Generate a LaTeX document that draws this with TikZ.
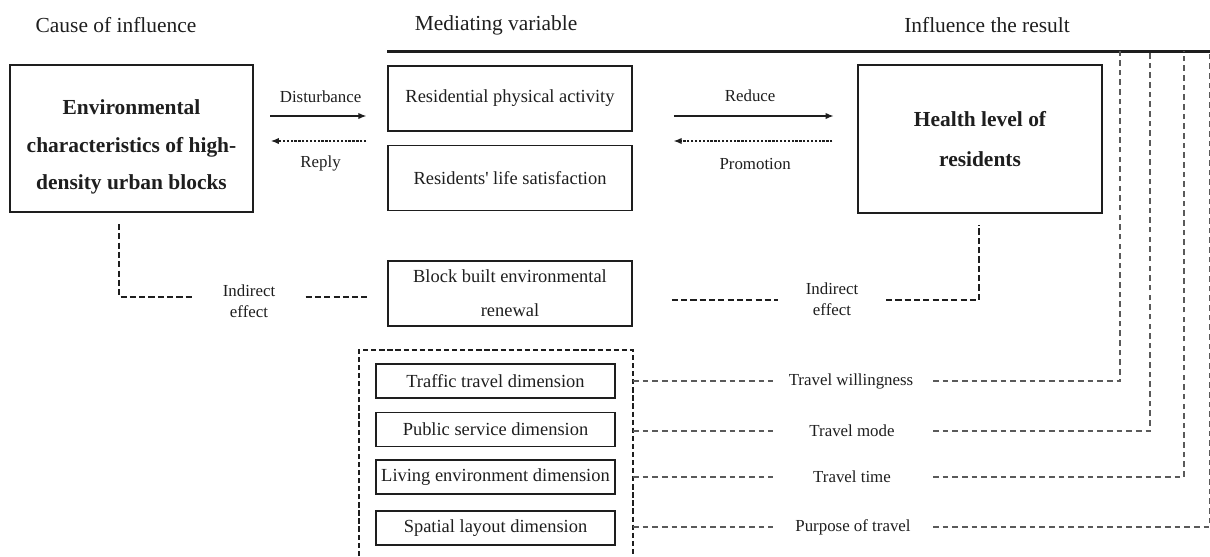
\documentclass[tikz,border=0pt]{standalone}
\usepackage{fontspec}
\setmainfont{Liberation Serif}
\usetikzlibrary{arrows.meta,positioning}
\definecolor{inkgray}{RGB}{30,30,30}
\definecolor{linegray}{RGB}{90,90,90}

\begin{document}
\begin{tikzpicture}[x=0.02cm,y=-0.02cm,node distance=0.26cm,
  every node/.style={align=center,text=inkgray},
  hd/.style={font=\fontsize{12.2}{14}\selectfont},
  box/.style={draw=inkgray,line width=0.9pt,minimum width=4.88cm,minimum height=1.3cm,font=\fontsize{10.5}{19.3}\selectfont},
  bigbox/.style={draw=inkgray,line width=0.9pt,minimum width=4.87cm,minimum height=2.95cm},
  dimbox/.style={draw=inkgray,line width=0.9pt,minimum width=4.78cm,minimum height=0.68cm,inner xsep=2pt,font=\fontsize{10.5}{12}\selectfont},
  lbl/.style={font=\fontsize{9.6}{11.9}\selectfont},
  flow/.style={-{Latex[length=4.5pt,width=3.6pt]},line width=0.6pt,inkgray},
  backflow/.style={flow,dash pattern=on 1.3pt off 0.9pt},
  effline/.style={line width=1.1pt,inkgray,dash pattern=on 3.5pt off 1.8pt},
  trip/.style={line width=0.6pt,linegray,dash pattern=on 3.2pt off 2.3pt}]
\useasboundingbox (0,0) rectangle (1210,556);

% column heads and top rule
\node[hd] (hcause) at (116,25) {Cause of influence};
\node[hd] (hmed) at (496,25) {Mediating variable};
\node[hd] (hres) at (987,25) {Influence the result};
\draw[line width=1.7pt,inkgray] (387,51) coordinate (rulel) -- (1210,51) coordinate (ruler);

% main boxes
\node[bigbox,font=\fontsize{12.2}{21.5}\selectfont\bfseries] (env) at (131.5,138.5) {\rule{0pt}{18pt}Environmental\\characteristics of high-\\density urban blocks};
\node[box] (act) at (510,98.5) {Residential physical activity};
\node[box,below=of act] (sat) {Residents{\textquotesingle} life satisfaction};
\node[bigbox,font=\fontsize{12.2}{23}\selectfont\bfseries] (hl) at (980,139) {Health level of\\residents};
\node[box] (renew) at (510,293.5) {Block built environmental\\renewal};

% arrows between the columns
\coordinate (fwd) at (0,116); \coordinate (bwd) at (0,141);
\draw[flow,shorten <=0.32cm,shorten >=0.42cm] (env.east |- fwd) -- (act.west |- fwd) node[lbl,midway,above=4.2pt] {Disturbance};
\draw[backflow,shorten <=0.42cm,shorten >=0.34cm] (act.west |- bwd) -- (env.east |- bwd) node[lbl,midway,below=5pt] {Reply};
\draw[flow,shorten <=0.82cm,shorten >=0.48cm] (act.east |- fwd) -- (hl.west |- fwd) node[lbl,midway,above=4.5pt,xshift=0.1cm] {Reduce};
\draw[backflow,shorten <=0.5cm,shorten >=0.82cm] (hl.west |- bwd) -- (act.east |- bwd) node[lbl,midway,below=6pt,xshift=0.2cm] {Promotion};

% indirect effect
\node[lbl,inner xsep=0.6cm] (effl) at (249,301) {Indirect\\effect};
\node[lbl,inner xsep=0.55cm] (effr) at (832,299) {Indirect\\effect};
\coordinate (elbowl) at (119,297); \coordinate (elbowr) at (979,300);
\draw[effline,shorten <=0.22cm] (env.south -| elbowl) -- (elbowl) -- (effl.west |- elbowl);
\draw[effline,shorten >=0.4cm] (effl.east |- elbowl) -- (renew.west |- elbowl);
\draw[effline,shorten <=0.78cm] (renew.east |- elbowr) -- (effr.west |- elbowr);
\draw[effline,shorten >=0.22cm] (effr.east |- elbowr) -- (elbowr) -- (hl.south -| elbowr);

% dimensions of the built environment
\draw[line width=0.9pt,inkgray,dash pattern=on 3pt off 1.6pt] (359,556) -- (359,350) -- (633,350) coordinate (grp) -- (633,556);
\node[dimbox] (traf) at (495.5,381) {Traffic travel dimension};
\node[dimbox,below=0.26cm of traf] (pub) {Public service dimension};
\node[dimbox,below=0.24cm of pub] (liv) {Living environment dimension};
\node[dimbox,below=0.3cm of liv] (spa) {Spatial layout dimension};

% travel behaviour links
\coordinate (gapl) at (773,0); \coordinate (gapr) at (933,0);
\coordinate (v1) at (1120,51); \coordinate (v2) at (1150,51);
\coordinate (v3) at (1184,51); \coordinate (v4) at (1209.4,51);
\node[lbl] (will) at (851,381) {Travel willingness};
\node[lbl] (mode) at (852,431) {Travel mode};
\node[lbl] (ttime) at (852,477) {Travel time};
\node[lbl] (purp) at (853,527) {Purpose of travel};
\draw[trip] (will -| grp) -- (will -| gapl); \draw[trip] (will -| gapr) -| (v1);
\draw[trip] (mode -| grp) -- (mode -| gapl); \draw[trip] (mode -| gapr) -| (v2);
\draw[trip] (ttime -| grp) -- (ttime -| gapl); \draw[trip] (ttime -| gapr) -| (v3);
\draw[trip] (purp -| grp) -- (purp -| gapl); \draw[trip] (purp -| gapr) -| (v4);
\end{tikzpicture}
\end{document}
